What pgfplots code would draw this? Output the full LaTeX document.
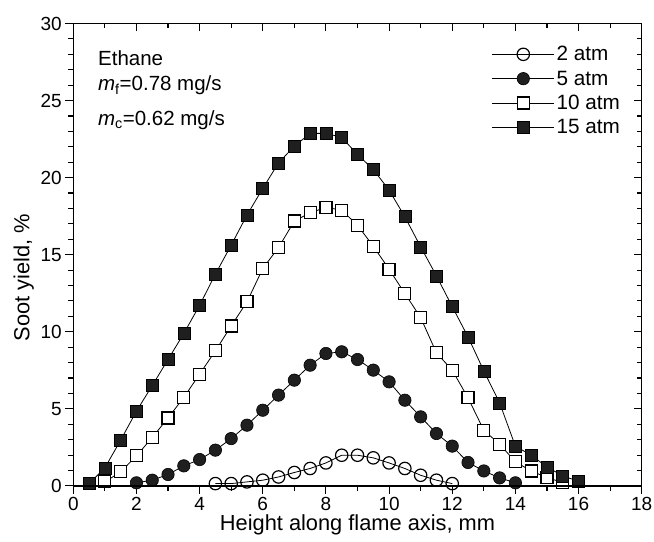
\documentclass[border=0pt]{standalone}
\usepackage{fontspec}
\setmainfont{Liberation Sans}
\usepackage{pgfplots}
\usepackage{pgfplotstable}
\pgfplotsset{compat=1.18}

\pgfplotstableread{
x y
4.5 0.15
5.0 0.15
5.5 0.26
6.0 0.37
6.5 0.58
7.0 0.87
7.5 1.13
8.0 1.49
8.5 1.99
9.0 1.99
9.5 1.82
10.0 1.49
10.5 1.13
11.0 0.69
11.5 0.37
12.0 0.15
}\datatwo

\pgfplotstableread{
x y
2.0 0.20
2.5 0.37
3.0 0.74
3.5 1.30
4.0 1.71
4.5 2.32
5.0 3.07
5.5 3.94
6.0 4.91
6.5 5.89
7.0 6.86
7.5 7.83
8.0 8.59
8.5 8.70
9.0 8.20
9.5 7.51
10.0 6.75
10.5 5.56
11.0 4.48
11.5 3.40
12.0 2.58
12.5 1.52
13.0 0.97
13.5 0.52
14.0 0.20
}\datafive

\pgfplotstableread{
x y
1.0 0.26
1.5 0.91
2.0 1.95
2.5 3.14
3.0 4.41
3.5 5.74
4.0 7.25
4.5 8.76
5.0 10.38
5.5 11.94
6.0 14.10
6.5 15.47
7.0 17.18
7.5 17.72
8.0 18.07
8.5 17.89
9.0 16.91
9.5 15.55
10.0 14.06
10.5 12.48
11.0 10.92
11.5 8.63
12.0 7.51
12.5 5.71
13.0 3.61
13.5 2.71
14.0 1.56
14.5 0.97
15.0 0.54
15.5 0.22
}\dataten

\pgfplotstableread{
x y
0.5 0.15
1.0 1.17
1.5 2.97
2.0 4.85
2.5 6.51
3.0 8.20
3.5 9.89
4.0 11.72
4.5 13.74
5.0 15.62
5.5 17.57
6.0 19.30
6.5 20.96
7.0 22.04
7.5 22.87
8.0 22.87
8.5 22.61
9.0 21.50
9.5 20.53
10.0 19.19
10.5 17.46
11.0 15.51
11.5 13.63
12.0 11.63
12.5 9.67
13.0 7.46
13.5 5.39
14.0 2.58
14.5 1.99
15.0 1.23
15.5 0.65
16.0 0.30
}\datafifteen

\begin{document}
\begin{tikzpicture}
\path[use as bounding box] (-73.3bp,-55.3bp) rectangle (580.7bp,485.9bp);
\pgfplotsset{
  common/.style={
    scale only axis, width=568.4bp, height=462.4bp,
    xmin=0, xmax=18, ymin=0, ymax=30,
    xtick={0,2,...,18}, ytick={0,5,...,30},
    minor x tick num=1, minor y tick num=4,
    axis line style={line width=1.2bp},
    major tick length=8bp, minor tick length=5bp,
    every tick/.style={line width=1.1bp, black},
    /pgf/number format/assume math mode=true,
    ticklabel style={font=\fontsize{19bp}{21bp}\selectfont},
  }
}
\begin{axis}[common,
  xtick pos=left, ytick pos=left, tick align=outside,
  clip=false,
  xlabel={Height along flame axis, mm},
  ylabel={Soot yield, \%},
  label style={font=\fontsize{21.8bp}{25bp}\selectfont},
  xlabel style={yshift=3bp},
  every axis y label/.append style={at={(ticklabel cs:0.45)}},
  legend cell align=left,
  legend style={draw=none, fill=none, at={(axis cs:13.25,28.66)}, anchor=north west,
    font=\fontsize{20.7bp}{24bp}\selectfont, inner sep=0pt, row sep=4.5bp,
    nodes={inner sep=2bp}},
  legend image code/.code={%
    \draw[mark=none,#1] (0bp,0bp) -- (62bp,0bp);
    \draw[#1] plot coordinates {(31bp,0bp)};},
  every axis plot/.append style={line width=0.8bp, black},
]
\addplot[mark=o, mark size=6.2bp, mark options={line width=1.2bp, fill=white}] table {\datatwo};
\addlegendentry{2 atm}
\addplot[mark=*, mark size=6.2bp, mark options={line width=0.6bp, fill=black!88}] table {\datafive};
\addlegendentry{5 atm}
\addplot[mark=square*, mark size=6.0bp, mark options={line width=1.2bp, fill=white}] table {\dataten};
\addlegendentry{10 atm}
\addplot[mark=square*, mark size=6.0bp, mark options={line width=0.6bp, fill=black!88}] table {\datafifteen};
\addlegendentry{15 atm}
\node[anchor=base west, inner sep=0pt, font=\fontsize{20.5bp}{24bp}\selectfont] at (axis cs:0.78,27.30) {Ethane};
\node[anchor=base west, inner sep=0pt, font=\fontsize{20.5bp}{24bp}\selectfont] at (axis cs:0.78,25.63) {\textit{m}\textsubscript{f}=0.78 mg/s};
\node[anchor=base west, inner sep=0pt, font=\fontsize{20.5bp}{24bp}\selectfont] at (axis cs:0.78,23.41) {\textit{m}\textsubscript{c}=0.62 mg/s};
\end{axis}
\begin{axis}[common,
  xtick pos=right, ytick pos=right, tick align=inside,
  xticklabels={}, yticklabels={},
]
\end{axis}
\end{tikzpicture}
\end{document}
